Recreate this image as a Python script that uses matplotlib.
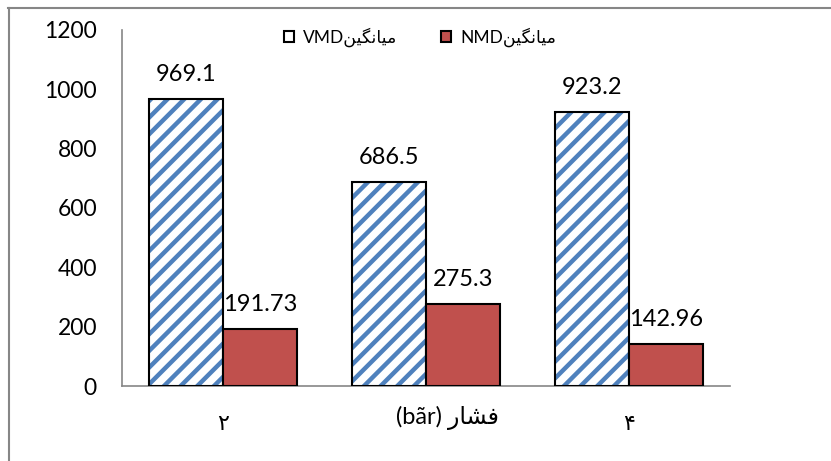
import numpy as np
import matplotlib
matplotlib.use("Agg")
import matplotlib.pyplot as plt
from matplotlib.patches import Patch
from matplotlib.lines import Line2D

plt.rcParams['font.family'] = ['Lato', 'DejaVu Sans']
plt.rcParams['hatch.linewidth'] = 3.2

# Persian words in visual (shaped, left-to-right) order
MEAN_FA = '\uFEE6\uFBFF\uFB95\uFEE7\uFE8E\uFBFF\uFEE3'   # میانگین
PRESSURE_FA = '\uFEAD\uFE8E\uFEB8\uFED3'                  # فشار

categories = ['\u06F2', '', '\u06F4']          # ۲ , (۳) , ۴
vmd = [969.1, 686.5, 923.2]
nmd = [191.73, 275.3, 142.96]
vmd_labels = ['969.1', '686.5', '923.2']
nmd_labels = ['191.73', '275.3', '142.96']
yticks = [0, 200, 400, 600, 800, 1000, 1200]

blue = '#4F81BD'
red = '#C0504D'
grey = '#868686'

fig = plt.figure(figsize=(8.31, 4.61), dpi=100)
ax = fig.add_axes([122/831, 1-386/461, 608/831, 356/461])

x = np.arange(len(categories))
w = 0.365

# hatched VMD bars: hatch drawn in blue, outline drawn separately in black
ax.bar(x - w/2, vmd, w, color='white', edgecolor=blue, hatch='//', linewidth=0, zorder=2)
ax.bar(x - w/2, vmd, w, fill=False, edgecolor='black', linewidth=1.5, zorder=3)
ax.bar(x + w/2, nmd, w, color=red, edgecolor='black', linewidth=1.5, zorder=3)

for xi, v, s in zip(x - w/2, vmd, vmd_labels):
    ax.annotate(s, (xi, v), xytext=(0, 10), textcoords='offset points',
                ha='center', va='bottom', fontsize=17)
for xi, v, s in zip(x + w/2, nmd, nmd_labels):
    ax.annotate(s, (xi, v), xytext=(0, 10), textcoords='offset points',
                ha='center', va='bottom', fontsize=17)

ax.set_xlim(-0.5, 2.5)
ax.set_ylim(0, 1200)
ax.set_yticks(yticks)
ax.set_yticklabels([str(t) for t in yticks], fontsize=16.5)
ax.set_xticks(x)
ax.set_xticklabels(categories, fontsize=16)
ax.tick_params(axis='both', length=0)
ax.tick_params(axis='y', pad=18)
ax.tick_params(axis='x', pad=20)

for side in ['top', 'right']:
    ax.spines[side].set_visible(False)
for side in ['left', 'bottom']:
    ax.spines[side].set_color(grey)
    ax.spines[side].set_linewidth(1.2)

# axis title sits on the tick-label row
fig.text(447/831, 1-418/461, '(b\u00e3r) ' + PRESSURE_FA, ha='center', va='center', fontsize=17)

handles = [Patch(facecolor='white', edgecolor='black', linewidth=1.5),
           Patch(facecolor=red, edgecolor='black', linewidth=1.5)]
ax.legend(handles, ['VMD' + MEAN_FA, 'NMD' + MEAN_FA], loc='upper center',
          bbox_to_anchor=(0.49, 1.05), ncol=2, frameon=False, fontsize=12.5,
          handlelength=0.6, handleheight=0.6, handletextpad=0.5, columnspacing=2.5)

# outer chart border (top and left only visible in the crop)
fig.add_artist(Line2D([8/831, 1], [1-8.5/461, 1-8.5/461], color=grey, lw=1.5))
fig.add_artist(Line2D([8.5/831, 8.5/831], [0, 1-8.5/461], color=grey, lw=1.5))

fig.savefig('out.png', dpi=100)
